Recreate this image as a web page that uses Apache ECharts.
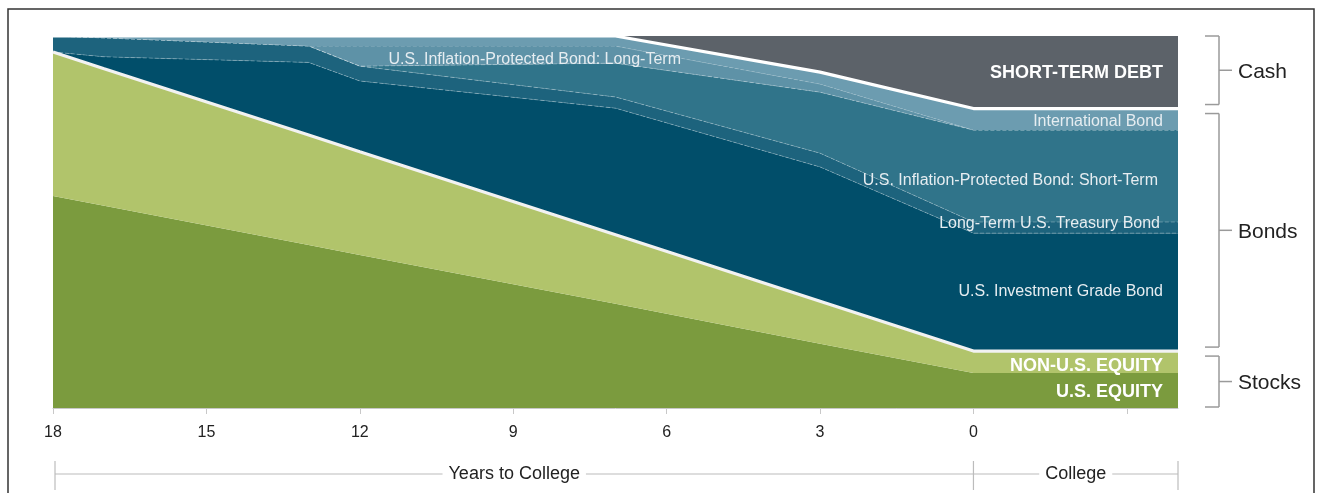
<!DOCTYPE html>
<html>
<head>
<meta charset="utf-8">
<style>
  html, body { margin: 0; padding: 0; background: #fff; }
  #chart { width: 1317px; height: 493px; }
</style>
<script src="https://cdn.jsdelivr.net/npm/echarts@6/dist/echarts.min.js"></script>
</head>
<body>
<div id="chart"></div>
<script>
// ---- data (percent of portfolio, by years to college) ----
const years = [18, 17, 13, 12, 7, 3, 0, -4];
const usEquity          = [57.0, 54.4, 43.8, 41.1, 28.0, 17.3, 9.4, 9.4];
const nonUsEquity       = [38.7, 36.8, 29.6, 27.8, 18.6, 11.4, 5.9, 5.9];
const usInvestmentGrade = [0.0, 3.2, 19.5, 19.0, 34.0, 36.1, 31.7, 31.7];
const ltTreasury        = [4.3, 5.1, 4.4, 4.0, 3.0, 3.7, 3.0, 3.0];
const ipShortTerm       = [0.0, 0.0, 0.0, 0.0, 9.1, 16.4, 24.7, 24.7];
const ipLongTerm        = [0.0, 0.0, 0.0, 5.4, 4.6, 2.2, 0.0, 0.0];
const intlBond          = [0.0, 0.5, 2.7, 2.7, 2.7, 3.2, 5.8, 5.8];
const shortTermDebt     = [0.0, 0.0, 0.0, 0.0, 0.0, 9.7, 19.5, 19.5];

const tickValues  = [18, 15, 12, 9, 6, 3, 0, -3];
const tickLabels  = [18, 15, 12, 9, 6, 3, 0];
const xMin = -4, xMax = 18;

const FONT = '"Liberation Sans", Arial, sans-serif';
const dashed = { type: 'dashed', color: 'rgba(255,255,255,0.28)', width: 1 };

const layers = [
  { name: 'U.S. Equity', data: usEquity, color: '#7b9b3e', line: { width: 0 } },
  { name: 'Non-U.S. Equity', data: nonUsEquity, color: '#b1c46b', line: { color: '#f2f2f2', width: 3.2 }, z: 4 },
  { name: 'U.S. Investment Grade Bond', data: usInvestmentGrade, color: '#014e6a', line: dashed },
  { name: 'Long-Term U.S. Treasury Bond', data: ltTreasury, color: '#1d637d', line: dashed },
  { name: 'U.S. Inflation-Protected Bond: Short-Term', data: ipShortTerm, color: '#30748a', line: dashed },
  { name: 'U.S. Inflation-Protected Bond: Long-Term', data: ipLongTerm, color: '#5e92a7', line: dashed },
  { name: 'International Bond', data: intlBond, color: '#6c9cb0', line: { color: '#ffffff', width: 3.2 }, z: 4 },
  { name: 'Short-Term Debt', data: shortTermDebt, color: '#5c6269', line: { width: 0 } }
];

const chart = echarts.init(document.getElementById('chart'), null, { renderer: 'canvas' });

const option = {
  animation: false,
  backgroundColor: '#ffffff',
  textStyle: { fontFamily: FONT },
  grid: { left: 53, right: 139, top: 36, bottom: 85, containLabel: false },
  xAxis: {
    type: 'value', inverse: true, min: xMin, max: xMax,
    axisLine: { show: true, lineStyle: { color: '#c8c8c8', width: 1 } },
    axisTick: { show: true, customValues: tickValues, length: 6, lineStyle: { color: '#c8c8c8' } },
    axisLabel: { show: true, customValues: tickLabels, fontSize: 16, color: '#222', margin: 17, fontFamily: FONT },
    splitLine: { show: false }
  },
  yAxis: { type: 'value', min: 0, max: 100, show: false, splitLine: { show: false } },
  // value first so that the stack is applied on the y dimension
  series: layers.map(l => ({
    name: l.name, type: 'line', stack: 'alloc', symbol: 'none', silent: true,
    z: l.z || 2,
    encode: { x: 1, y: 0 },
    data: years.map((x, i) => [l.data[i], x]),
    lineStyle: l.line,
    areaStyle: { color: l.color, opacity: 1 },
    itemStyle: { color: l.color }
  }))
};
chart.setOption(option);

// ---- annotations placed through the chart's own scales ----
const px = (x, y) => chart.convertToPixel({ gridIndex: 0 }, [x, y]);
const last = years.length - 1;
const cum = [];
let run = 0;
layers.forEach(l => { run += l.data[last]; cum.push(run); });
const stocksTop = cum[1], bondsTop = cum[6];

const bandLabels = [
  { text: 'SHORT-TERM DEBT', y: 90.0, dx: -15, bold: true },
  { text: 'International Bond', y: 77.0, dx: -15 },
  { text: 'U.S. Inflation-Protected Bond: Short-Term', y: 61.0, dx: -20 },
  { text: 'Long-Term U.S. Treasury Bond', y: 49.7, dx: -18 },
  { text: 'U.S. Investment Grade Bond', y: 31.2, dx: -15 },
  { text: 'NON-U.S. EQUITY', y: 11.4, dx: -15, bold: true },
  { text: 'U.S. EQUITY', y: 4.4, dx: -15, bold: true }
];

const g = [];
const rightEdge = px(xMin, 0)[0];
bandLabels.forEach(b => {
  const p = px(xMin, b.y);
  g.push({
    type: 'text', silent: true, z: 100,
    style: {
      x: rightEdge + b.dx, y: p[1], text: b.text, align: 'right', verticalAlign: 'middle',
      fill: b.bold ? '#ffffff' : '#e6edf1',
      font: (b.bold ? 'bold 18px ' : '16px ') + FONT
    }
  });
});
{
  const p = px(8.58, 93.6);
  g.push({ type: 'text', silent: true, z: 100,
    style: { x: p[0], y: p[1], text: 'U.S. Inflation-Protected Bond: Long-Term', align: 'center',
      verticalAlign: 'middle', fill: '#e6edf1', font: '16px ' + FONT } });
}

// right-side brackets
const bx = rightEdge + 41, armL = 14, armR = 13;
const groups = [
  { text: 'Cash', lo: bondsTop, hi: 100 },
  { text: 'Bonds', lo: stocksTop, hi: bondsTop },
  { text: 'Stocks', lo: 0, hi: stocksTop }
];
const bcol = '#9a9a9a';
groups.forEach((gr, i) => {
  let yTop = px(xMin, gr.hi)[1];
  let yBot = px(xMin, gr.lo)[1];
  if (i > 0) yTop += 5;
  if (i < 2) yBot -= 4; else yBot -= 1;
  const yMid = (yTop + yBot) / 2;
  const lines = [
    [bx - armL, yTop, bx, yTop], [bx, yTop, bx, yBot], [bx - armL, yBot, bx, yBot], [bx, yMid, bx + armR, yMid]
  ];
  lines.forEach(s => g.push({ type: 'line', silent: true,
    shape: { x1: s[0], y1: s[1], x2: s[2], y2: s[3] }, style: { stroke: bcol, lineWidth: 1.5 } }));
  g.push({ type: 'text', silent: true,
    style: { x: bx + 19, y: yMid + 2, text: gr.text, align: 'left', verticalAlign: 'middle',
      fill: '#222', font: '21px ' + FONT } });
});

// bottom period brackets
const x18 = px(18, 0)[0] + 2, x0 = px(0, 0)[0], xEnd = rightEdge;
const ly = 474, lcol = '#bcbcbc';
[[x18, ly, x0, ly], [x0, ly, xEnd, ly], [x18, 461, x18, 490], [x0, 461, x0, 490], [xEnd, 461, xEnd, 490]]
  .forEach(s => g.push({ type: 'line', silent: true,
    shape: { x1: s[0], y1: s[1], x2: s[2], y2: s[3] }, style: { stroke: lcol, lineWidth: 1.2 } }));
g.push({ type: 'text', silent: true, z: 50,
  style: { x: (x18 + x0) / 2, y: ly, text: 'Years to College', align: 'center', verticalAlign: 'middle',
    fill: '#222', font: '18px ' + FONT, backgroundColor: '#fff', padding: [2, 6] } });
g.push({ type: 'text', silent: true, z: 50,
  style: { x: (x0 + xEnd) / 2, y: ly, text: 'College', align: 'center', verticalAlign: 'middle',
    fill: '#222', font: '18px ' + FONT, backgroundColor: '#fff', padding: [2, 6] } });

// outer frame
g.push({ type: 'rect', silent: true, shape: { x: 8, y: 9, width: 1306, height: 500 },
  style: { fill: 'none', stroke: '#333', lineWidth: 1.5 } });

chart.setOption({ graphic: g });
</script>
</body>
</html>
